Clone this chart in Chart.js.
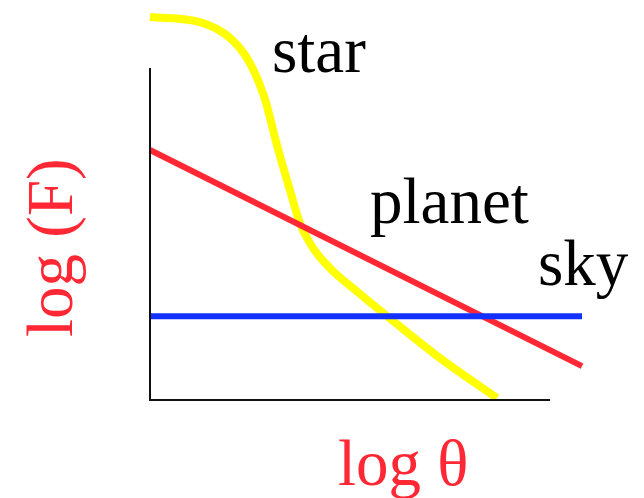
<!DOCTYPE html>
<html>
<head>
<meta charset="utf-8">
<script src="https://cdn.jsdelivr.net/npm/chart.js@4"></script>
<style>
  html, body { margin: 0; padding: 0; background: #fff; }
  #wrap { width: 644px; height: 498px; }
</style>
</head>
<body>
<div id="wrap"><canvas id="myChart"></canvas></div>
<script>
// schematic values (log theta, log F), arbitrary units
let starX   = [0, 1.11, 1.78, 2.22, 2.56, 2.82, 3.11, 3.33, 3.62, 4.0, 4.56, 5.29, 6.38, 7.71];
let starY   = [9.82, 9.69, 9.28, 8.64, 7.69, 6.54, 5.38, 4.54, 3.90, 3.38, 2.82, 2.13, 1.13, 0.05];
let planetX = [0, 9.6];
let planetY = [6.41, 0.87];
let skyX    = [0, 9.6];
let skyY    = [2.15, 2.15];
let axisX   = [0, 0, 8.89];
let axisY   = [8.51, 0, 0];

function pts(xs, ys) {
    return xs.map(function (x, i) { return {x: x, y: ys[i]}; });
}

// text drawn at pixel spots on the canvas
let labels = [
    {text: 'star',   x: 272, y: 72,  color: '#000'},
    {text: 'planet', x: 370, y: 223, color: '#000'},
    {text: 'sky',    x: 538, y: 285, color: '#000'},
    {text: 'log θ',  x: 338, y: 485, color: 'rgb(255,40,52)'}
];

let textPlugin = {
    id: 'texts',
    afterDraw: function (chart) {
        let c = chart.ctx;
        c.save();
        c.font = '65px "Liberation Serif", "Times New Roman", serif';
        c.textBaseline = 'alphabetic';
        c.textAlign = 'left';
        labels.forEach(function (l) {
            c.fillStyle = l.color;
            c.fillText(l.text, l.x, l.y);
        });
        // y axis title, rotated
        c.translate(72, 337);
        c.rotate(-Math.PI / 2);
        c.fillStyle = 'rgb(255,40,52)';
        c.fillText('log (F)', 0, 0);
        c.restore();
    }
};

let ctx = document.getElementById("myChart").getContext("2d");
let config = {
    type: 'line',
    data: {
        datasets: [
            {label: 'axes', data: pts(axisX, axisY), borderColor: '#111', borderWidth: 2, tension: 0, borderCapStyle: 'butt'},
            {label: 'sky', data: pts(skyX, skyY), borderColor: 'rgb(20,50,255)', borderWidth: 6, tension: 0},
            {label: 'planet', data: pts(planetX, planetY), borderColor: 'rgb(255,40,52)', borderWidth: 6, tension: 0},
            {label: 'star', data: pts(starX, starY), borderColor: '#ffff00', borderWidth: 8, cubicInterpolationMode: 'monotone'}
        ]
    },
    options: {
        responsive: true,
        maintainAspectRatio: false,
        animation: false,
        events: [],
        clip: false,
        layout: {padding: {left: 150, right: 44, top: 10, bottom: 98}},
        elements: {point: {radius: 0}},
        plugins: {legend: {display: false}, tooltip: {enabled: false}},
        scales: {
            x: {type: 'linear', min: 0, max: 10, display: false},
            y: {type: 'linear', min: 0, max: 10, display: false}
        }
    },
    plugins: [textPlugin]
};
window.myChart = new Chart(ctx, config);
</script>
</body>
</html>
